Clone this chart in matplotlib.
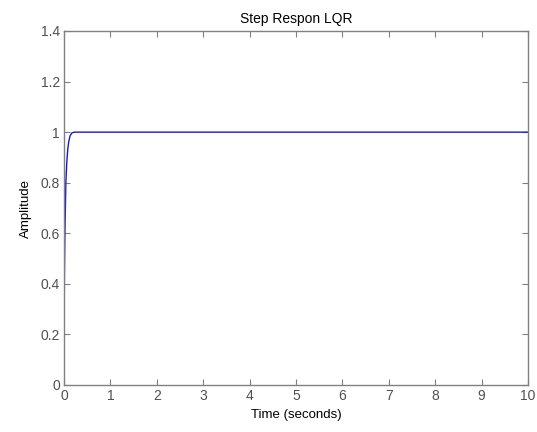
import matplotlib
matplotlib.use("Agg")
import matplotlib.pyplot as plt

t = [0, 0.002, 0.01, 0.02, 0.03, 0.04, 0.06, 0.08, 0.1, 0.13, 0.17, 0.22, 0.3, 10]
y = [0, 0.25, 0.45, 0.6, 0.7, 0.8, 0.88, 0.93, 0.96, 0.985, 0.997, 1.0, 1.0, 1.0]
xticks = [0, 1, 2, 3, 4, 5, 6, 7, 8, 9, 10]
yticks = [0, 0.2, 0.4, 0.6, 0.8, 1.0, 1.2, 1.4]
ylabels = ["0", "0.2", "0.4", "0.6", "0.8", "1", "1.2", "1.4"]

plt.rcParams['font.family'] = ['Liberation Sans', 'DejaVu Sans']
fig = plt.figure(figsize=(5.37, 4.32), dpi=100)
ax = fig.add_axes([64/537, 1-385/432, (528-64)/537, (385-31)/432])
ax.plot(t, y, color='#1a1acc', lw=1.0)
ax.set_xlim(0, 10)
ax.set_ylim(0, 1.4)
ax.set_xticks(xticks)
ax.set_xticklabels([str(v) for v in xticks])
ax.set_yticks(yticks)
ax.set_yticklabels(ylabels)
for s in ax.spines.values():
    s.set_color('#808080')
    s.set_linewidth(1.0)
ax.tick_params(direction='in', top=True, right=True, length=4, color='#808080',
               labelcolor='#505050', labelsize=10, pad=3)
ax.set_title("Step Respon LQR", fontsize=10, pad=6)
ax.set_xlabel("Time (seconds)", fontsize=9.5, labelpad=4)
ax.set_ylabel("Amplitude", fontsize=9.5, labelpad=6)
fig.savefig("out.png", dpi=100)
